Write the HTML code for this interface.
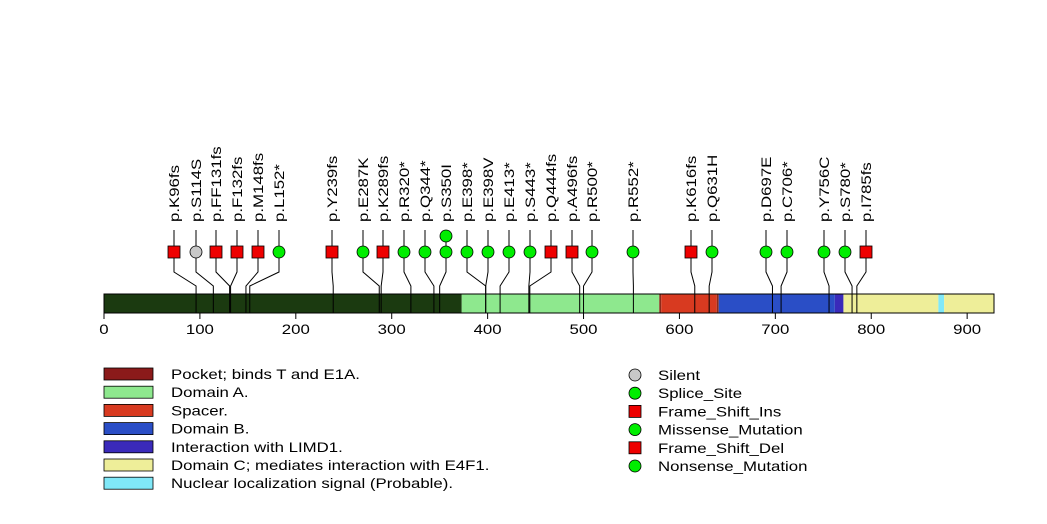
<!DOCTYPE html>
<html><head><meta charset="utf-8"><style>
body{margin:0;background:#fff}
svg{display:block;font-family:"Liberation Sans",sans-serif}
</style></head><body>
<svg id="c" width="1047" height="524"></svg>
<script>
const mutPos=[96,114,131,132,148,152,239,287,289,320,344,350,350,398,398,413,443,444,496,500,552,616,631,697,706,756,780,785];
const mutLabels=["p.K96fs","p.S114S","p.FF131fs","p.F132fs","p.M148fs","p.L152*","p.Y239fs","p.E287K","p.K289fs","p.R320*","p.Q344*","p.S350I","","p.E398*","p.E398V","p.E413*","p.S443*","p.Q444fs","p.A496fs","p.R500*","p.R552*","p.K616fs","p.Q631H","p.D697E","p.C706*","p.Y756C","p.S780*","p.I785fs"];
const mutTypes=["fs","silent","fs","fs","fs","mis","fs","mis","fs","mis","mis","mis","mis","mis","mis","mis","mis","fs","fs","mis","mis","fs","mis","mis","mis","mis","mis","fs"];
const markerX=[174,196,216,237,258,279,332,363,383,404,425,446,446,467,488,509,530,551,572,592,633,691,712,766,787,824,845,866];
const markerLevel=[0,0,0,0,0,0,0,0,0,0,0,0,1,0,0,0,0,0,0,0,0,0,0,0,0,0,0,0];
const domStart=[0,373,579,581,639,641,762,771,870,876];
const domEnd=[373,579,581,639,641,762,771,870,876,928];
const domColors=["#1b3a10","#8ee88e","#8b2a1a","#d83a20","#8b2a1a","#2a4ec6","#3a2aba","#eeee99","#80e8f8","#eeee99"];
const ticks=[0,100,200,300,400,500,600,700,800,900];
const legendLeft=["Pocket; binds T and E1A.","Domain A.","Spacer.","Domain B.","Interaction with LIMD1.","Domain C; mediates interaction with E4F1.","Nuclear localization signal (Probable)."];
const legendLeftColors=["#8b1a1a","#8ee88e","#d83a20","#2a4ec6","#3a2aba","#eeee99","#80e8f8"];
const legendRight=["Silent","Splice_Site","Frame_Shift_Ins","Missense_Mutation","Frame_Shift_Del","Nonsense_Mutation"];
const legendRightShape=["c","c","s","c","s","c"];
const legendRightColors=["#c8c8c8","#00ee00","#ee0000","#00ee00","#ee0000","#00ee00"];
const svg=document.getElementById('c');const NS='http://www.w3.org/2000/svg';
function el(t,a,txt){const e=document.createElementNS(NS,t);for(const k in a)e.setAttribute(k,a[k]);if(txt!==undefined)e.textContent=txt;svg.appendChild(e);return e;}
function widen(e){const w=e.getComputedTextLength();e.setAttribute('textLength',w*1.2);e.setAttribute('lengthAdjust','spacingAndGlyphs');}
const X=v=>104+v*(890/928);
const BT=294,BB=313;
for(let i=0;i<domStart.length;i++){
 const r=el('rect',{x:X(domStart[i]),y:BT,width:X(domEnd[i])-X(domStart[i]),height:BB-BT,fill:domColors[i]});
 
 
}
el('rect',{x:X(0),y:BT,width:X(928)-X(0),height:BB-BT,fill:'none',stroke:'#000','stroke-width':1});
for(const t of ticks){
 el('line',{x1:X(t),y1:BB,x2:X(t),y2:BB+6,stroke:'#000'});
 const tl=el('text',{x:X(t),y:BB+21,'font-size':14,'text-anchor':'middle'},t);
 
 
 widen(tl);
}
for(let i=0;i<mutPos.length;i++){
 const mx=markerX[i],bx=X(mutPos[i]);
 const cy=252-markerLevel[i]*16;
 if(markerLevel[i]==0){
  el('polyline',{points:`${mx},258 ${mx},272 ${bx},286 ${bx},${BB}`,fill:'none',stroke:'#000','stroke-width':1});
  el('line',{x1:mx,y1:230,x2:mx,y2:246,stroke:'#000'});
 }
 const t=mutTypes[i];
 let m;
 if(t=='fs'){m=el('rect',{x:mx-6,y:cy-6,width:12,height:12,fill:'#ee0000',stroke:'#000','stroke-width':0.8});}
 else{m=el('circle',{cx:mx,cy:cy,r:6,fill:t=='silent'?'#c8c8c8':'#00ee00',stroke:'#000','stroke-width':0.8});}
 
 
 if(mutLabels[i]){
  const lb=el('text',{x:0,y:0,'font-size':14,transform:`translate(${mx+5},222) rotate(-90)`},mutLabels[i]);
  
  
  widen(lb);
 }
}
for(let i=0;i<legendLeft.length;i++){
 const y=374+i*18.2;
 const r=el('rect',{x:104,y:y-6,width:49,height:12,fill:legendLeftColors[i],stroke:'#000','stroke-width':0.8});
 
 
 const tx=el('text',{x:171,y:y+5,'font-size':14},legendLeft[i]);
 
 
 widen(tx);
}
for(let i=0;i<legendRight.length;i++){
 const y=375+i*18.2;
 let m;
 if(legendRightShape[i]=='s')m=el('rect',{x:629,y:y-6,width:12,height:12,fill:legendRightColors[i],stroke:'#000','stroke-width':0.8});
 else m=el('circle',{cx:635,cy:y,r:6,fill:legendRightColors[i],stroke:'#000','stroke-width':0.8});
 
 
 const tx=el('text',{x:658,y:y+5,'font-size':14},legendRight[i]);
 
 
 widen(tx);
}
</script>
</body></html>
